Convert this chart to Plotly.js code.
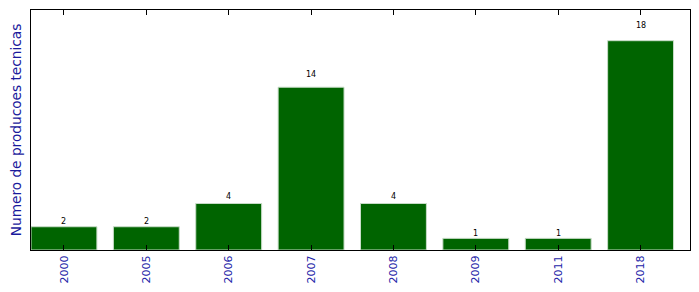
<!DOCTYPE html>
<html>
<head>
<meta charset="utf-8">
<script src="https://cdn.plot.ly/plotly-3.0.1.min.js"></script>
<style>html,body{margin:0;padding:0;background:#fff;}#chart{width:699px;height:292px;}</style>
</head>
<body>
<div id="chart"></div>
<script>
const years = ["2000", "2005", "2006", "2007", "2008", "2009", "2011", "2018"];
const counts = [2, 2, 4, 14, 4, 1, 1, 18];
const yAxisLabel = "Numero de producoes tecnicas";

const xs = years.map((_, i) => i);

const trace = {
  type: "bar",
  x: xs,
  y: counts,
  width: 0.8,
  marker: { color: "#006400", line: { color: "#c8dcc8", width: 1 } },
  hoverinfo: "skip"
};

const annotations = counts.map((v, i) => ({
  x: i, y: v * 1.05, xref: "x", yref: "y",
  text: String(v), showarrow: false, yanchor: "bottom", xanchor: "center",
  yshift: -2,
  font: { family: "DejaVu Sans", size: 8, color: "#000" }
}));

const layout = {
  width: 699, height: 292,
  margin: { l: 31, r: 9, t: 10, b: 42 },
  paper_bgcolor: "#fff", plot_bgcolor: "#fff",
  showlegend: false,
  bargap: 0,
  xaxis: {
    range: [-0.4, 7.6],
    tickmode: "array", tickvals: xs, ticktext: years,
    tickangle: -90,
    ticks: "inside", ticklen: 5, tickcolor: "#000", tickwidth: 1,
    showline: true, linecolor: "#000", linewidth: 1, mirror: "ticks",
    showgrid: false, zeroline: false,
    tickfont: { family: "DejaVu Sans", size: 11, color: "#2424a8" }
  },
  yaxis: {
    range: [0, 20.64],
    showticklabels: false, ticks: "",
    showline: true, linecolor: "#000", linewidth: 1, mirror: true,
    showgrid: false, zeroline: false,
    title: { text: yAxisLabel, standoff: 5, font: { family: "DejaVu Sans", size: 13.7, color: "#1a1a9c" } }
  },
  annotations: annotations
};

Plotly.newPlot("chart", [trace], layout, { staticPlot: true, displayModeBar: false });
</script>
</body>
</html>
